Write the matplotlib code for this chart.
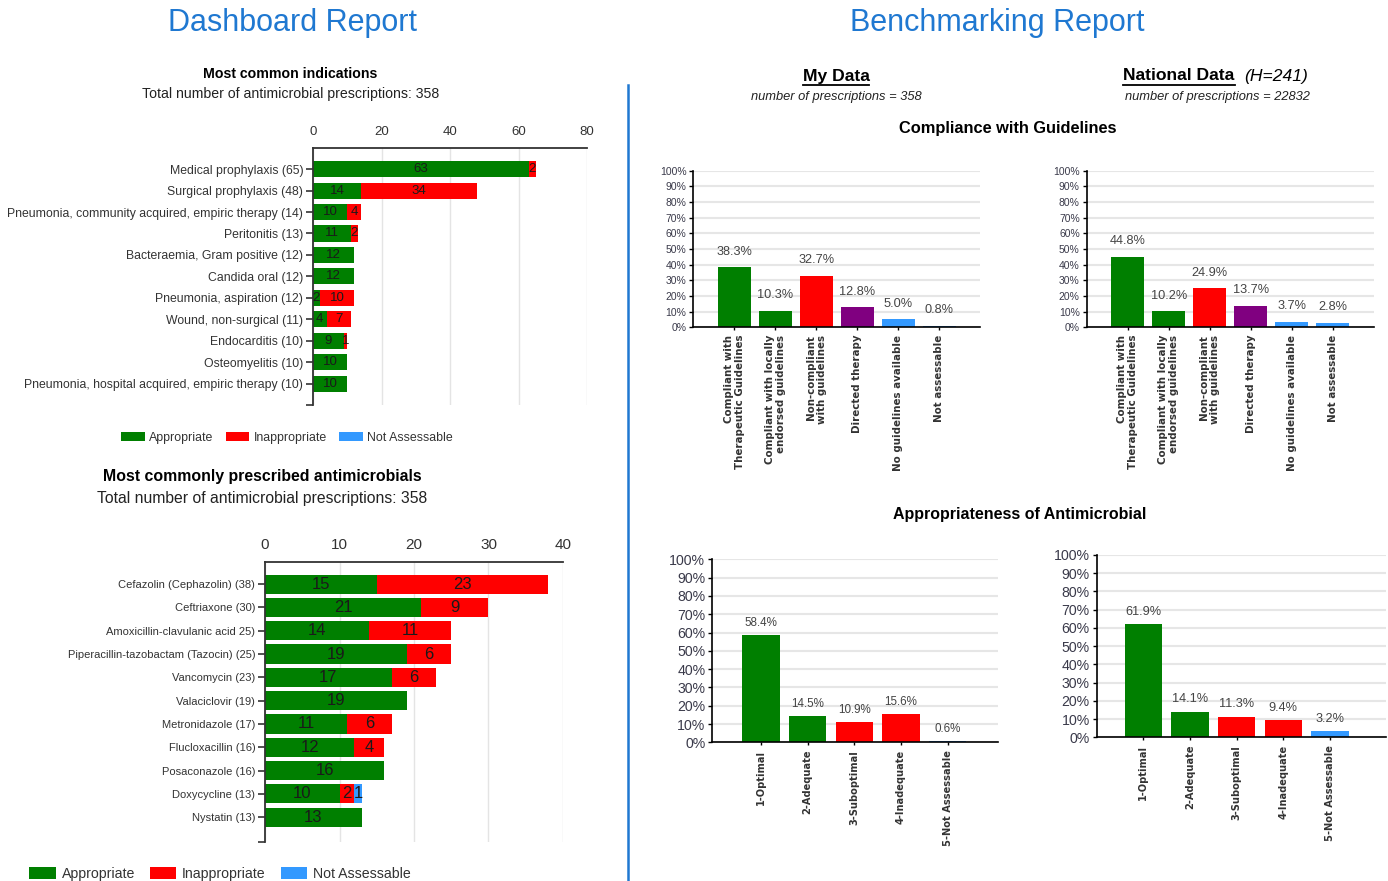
import numpy as np
import matplotlib.pyplot as plt
from matplotlib.lines import Line2D

plt.rcParams['font.family'] = ['Liberation Sans', 'DejaVu Sans']

W, H = 1388, 881
GREEN, RED, BLUE, PURPLE = '#007f00', '#ff0000', '#3399ff', '#800080'
REPORT_BLUE = '#1f78d1'

# dashboard: most common indications
ind_labels = ['Medical prophylaxis (65)', 'Surgical prophylaxis (48)',
              'Pneumonia, community acquired, empiric therapy (14)', 'Peritonitis (13)',
              'Bacteraemia, Gram positive (12)', 'Candida oral (12)', 'Pneumonia, aspiration (12)',
              'Wound, non-surgical (11)', 'Endocarditis (10)', 'Osteomyelitis (10)',
              'Pneumonia, hospital acquired, empiric therapy (10)']
ind_appr = [63, 14, 10, 11, 12, 12, 2, 4, 9, 10, 10]
ind_inappr = [2, 34, 4, 2, 0, 0, 10, 7, 1, 0, 0]
ind_na = [0, 0, 0, 0, 0, 0, 0, 0, 0, 0, 0]

# dashboard: most commonly prescribed antimicrobials
drug_labels = ['Cefazolin (Cephazolin) (38)', 'Ceftriaxone (30)', 'Amoxicillin-clavulanic acid 25)',
               'Piperacillin-tazobactam (Tazocin) (25)', 'Vancomycin (23)', 'Valaciclovir (19)',
               'Metronidazole (17)', 'Flucloxacillin (16)', 'Posaconazole (16)',
               'Doxycycline (13)', 'Nystatin (13)']
drug_appr = [15, 21, 14, 19, 17, 19, 11, 12, 16, 10, 13]
drug_inappr = [23, 9, 11, 6, 6, 0, 6, 4, 0, 2, 0]
drug_na = [0, 0, 0, 0, 0, 0, 0, 0, 0, 1, 0]

# benchmarking: compliance with guidelines (%)
comp_labels = ['Compliant with\nTherapeutic Guidelines', 'Compliant with locally\nendorsed guidelines',
               'Non-compliant\nwith guidelines', 'Directed therapy', 'No guidelines available',
               'Not assessable']
comp_colors = [GREEN, GREEN, RED, PURPLE, BLUE, BLUE]
comp_mine = [38.3, 10.3, 32.7, 12.8, 5.0, 0.8]
comp_national = [44.8, 10.2, 24.9, 13.7, 3.7, 2.8]

# benchmarking: appropriateness of antimicrobial (%)
appr_labels = ['1-Optimal', '2-Adequate', '3-Suboptimal', '4-Inadequate', '5-Not Assessable']
appr_colors = [GREEN, GREEN, RED, RED, BLUE]
appr_mine = [58.4, 14.5, 10.9, 15.6, 0.6]
appr_national = [61.9, 14.1, 11.3, 9.4, 3.2]

fig = plt.figure(figsize=(W / 100, H / 100), dpi=100)


def px_axes(left, top, right, bottom):
    return fig.add_axes([left / W, 1 - bottom / H, (right - left) / W, (bottom - top) / H])


def ftext(x, y, s, **kw):
    return fig.text(x / W, 1 - y / H, s, ha='center', va='center', **kw)


def stacked(ax, labels, appr, inappr, na, height, val_size, lab_size, xmax, xstep, ylim):
    y = np.arange(len(labels))
    appr, inappr, na = np.array(appr), np.array(inappr), np.array(na)
    b1 = ax.barh(y, appr, height, color=GREEN, label='Appropriate')
    b2 = ax.barh(y, inappr, height, left=appr, color=RED, label='Inappropriate')
    b3 = ax.barh(y, na, height, left=appr + inappr, color=BLUE, label='Not Assessable')
    for b, v in zip((b1, b2, b3), (appr, inappr, na)):
        ax.bar_label(b, labels=[str(x) if x else '' for x in v], label_type='center',
                     fontsize=val_size, color='#1a1a1a')
    ax.set_yticks(y, labels)
    ax.set_yticks([ylim[0]], minor=True)
    ax.set_ylim(*ylim)
    ax.set_xlim(0, xmax)
    ax.set_xticks(np.arange(0, xmax + 1, xstep))
    ax.xaxis.tick_top()
    ax.tick_params(axis='x', length=0, pad=7, labelsize=val_size, labelcolor='#333333')
    ax.tick_params(axis='y', which='both', length=5, width=1.2, color='#333333',
                   labelsize=lab_size, labelcolor='#333333', pad=2)
    ax.grid(axis='x', color='#e4e4e4', lw=1)
    ax.set_axisbelow(True)
    for s in ('right', 'bottom'):
        ax.spines[s].set_visible(False)
    for s in ('top', 'left'):
        ax.spines[s].set_color('#333333')
        ax.spines[s].set_linewidth(1.3)
    return b1, b2, b3


def vbars(ax, values, colors, labels, xlim, tick_size, lab_size, val_size, val_pad):
    x = np.arange(len(values))
    bars = ax.bar(x, values, 0.8, color=colors)
    ax.bar_label(bars, labels=[f'{v:.1f}%' for v in values], padding=val_pad,
                 fontsize=val_size, color='#444444')
    ax.set_xlim(*xlim)
    ax.set_ylim(0, 100)
    ticks = list(range(0, 101, 10))
    ax.set_yticks(ticks, [f'{t}%' for t in ticks])
    ax.set_xticks(x, labels, rotation=90, fontsize=lab_size, family='DejaVu Sans',
                  fontweight='bold', multialignment='right', linespacing=1.1, color='#333333')
    ax.tick_params(axis='x', length=2.5, width=1, pad=3)
    ax.tick_params(axis='y', length=3, width=1, labelsize=tick_size, labelcolor='#3a3a4a', pad=2)
    ax.grid(axis='y', color='#e6e6e6', lw=1.5)
    ax.set_axisbelow(True)
    for s in ('top', 'right'):
        ax.spines[s].set_visible(False)
    for s in ('left', 'bottom'):
        ax.spines[s].set_linewidth(1.2)


# headings and divider
ftext(293, 23, 'Dashboard Report', fontsize=22, color=REPORT_BLUE)
ftext(997, 23, 'Benchmarking Report', fontsize=22, color=REPORT_BLUE)
fig.add_artist(Line2D([628 / W, 628 / W], [1 - 85 / H, 0], color=REPORT_BLUE, lw=1.8))

# left top chart
ftext(290, 74, 'Most common indications', fontsize=10.2, fontweight='bold')
ftext(291, 94, 'Total number of antimicrobial prescriptions: 358', fontsize=10.2, color='#222222')
ax1 = px_axes(313, 147.7, 587, 405)
h1 = stacked(ax1, ind_labels, ind_appr, ind_inappr, ind_na, 0.75, 9.5, 8.8, 80, 20, (11.0, -1.0))
fig.legend(handles=h1, loc='center', bbox_to_anchor=(287 / W, 1 - 438 / H), ncol=3,
           frameon=False, fontsize=8.9, handlelength=1.9, handleheight=0.8,
           handletextpad=0.35, columnspacing=1.0, labelcolor='#333333')

# left bottom chart
ftext(262, 477, 'Most commonly prescribed antimicrobials', fontsize=11.4, fontweight='bold')
ftext(262, 499, 'Total number of antimicrobial prescriptions: 358', fontsize=11.3, color='#222222')
ax2 = px_axes(265, 561.7, 563, 841.7)
h2 = stacked(ax2, drug_labels, drug_appr, drug_inappr, drug_na, 0.82, 12, 8, 40, 10, (11.05, -0.96))
ax2.tick_params(axis='x', labelsize=11)
fig.legend(handles=h2, loc='center', bbox_to_anchor=(220 / W, 1 - 874 / H), ncol=3,
           frameon=False, fontsize=10.2, handlelength=1.85, handleheight=0.85,
           handletextpad=0.43, columnspacing=1.05, labelcolor='#333333')

# benchmarking headers
t_my = ftext(836, 76, 'My Data', fontsize=12.6, fontweight='bold')
t_nat = ftext(1179, 76, 'National Data', fontsize=12.6, fontweight='bold')
fig.text(1244 / W, 1 - 76 / H, '(H=241)', ha='left', va='center', fontsize=12.6, style='italic')
ftext(836, 97, 'number of prescriptions = 358', fontsize=9.3, style='italic', color='#222222')
ftext(1217, 97, 'number of prescriptions = 22832', fontsize=9.3, style='italic', color='#222222')
ftext(1008, 129, 'Compliance with Guidelines', fontsize=11.8, fontweight='bold')
ftext(1020, 514, 'Appropriateness of Antimicrobial', fontsize=11.5, fontweight='bold')

renderer = fig.canvas.get_renderer()
for t in (t_my, t_nat):
    bb = t.get_window_extent(renderer)
    fig.add_artist(Line2D([bb.x0 / W, bb.x1 / W], [(bb.y0 - 1) / H] * 2, color='black', lw=1.3))

# compliance charts
ax3 = px_axes(693.3, 170.7, 980.3, 327.3)
vbars(ax3, comp_mine, comp_colors, comp_labels, (-1, 6), 7.5, 7.4, 9.2, 7)
ax4 = px_axes(1086.7, 170.7, 1373.7, 327.3)
vbars(ax4, comp_national, comp_colors, comp_labels, (-1, 6), 7.5, 7.4, 9.2, 7)

# appropriateness charts
ax5 = px_axes(712.3, 559.3, 998, 742.3)
vbars(ax5, appr_mine, appr_colors, appr_labels, (-1.04, 5.08), 10.2, 7.1, 8.4, 4.5)
ax6 = px_axes(1096.7, 555, 1386, 737.3)
vbars(ax6, appr_national, appr_colors, appr_labels, (-1, 5.2), 10.2, 7.1, 9.2, 4.5)

fig.savefig('out.png', dpi=100)
